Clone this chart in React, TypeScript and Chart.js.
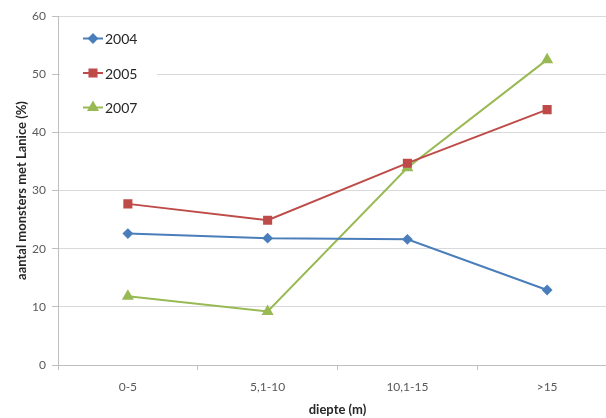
import React, { useEffect, useRef } from "react";
import { Chart, registerables } from "chart.js";
import { drawPoint } from "chart.js/helpers";

Chart.register(...registerables);

const categories = ["0-5", "5,1-10", "10,1-15", ">15"];
const series2004 = [22.6, 21.8, 21.6, 12.9];
const series2005 = [27.7, 24.9, 34.7, 43.9];
const series2007 = [11.8, 9.2, 33.9, 52.5];
const yTicks = [0, 10, 20, 30, 40, 50, 60];

const FONT = "Lato, 'Open Sans', sans-serif";

const legendPlugin = {
  id: "boxLegend",
  afterDatasetsDraw(chart: any) {
    const ctx = chart.ctx;
    const { left, top } = chart.chartArea;
    ctx.save();
    ctx.fillStyle = "#ffffff";
    ctx.fillRect(left + 2, top + 6, 97, 106);
    chart.data.datasets.forEach((ds: any, i: number) => {
      const y = top + 22.5 + i * 34.5;
      ctx.strokeStyle = ds.borderColor;
      ctx.lineWidth = 2;
      ctx.beginPath();
      ctx.moveTo(left + 25, y);
      ctx.lineTo(left + 45, y);
      ctx.stroke();
      ctx.fillStyle = ds.backgroundColor;
      ctx.strokeStyle = ds.borderColor;
      drawPoint(
        ctx,
        { pointStyle: ds.pointStyle, radius: ds.pointRadius, rotation: 0, borderWidth: 1 } as any,
        left + 35,
        y
      );
      ctx.fillStyle = "#262626";
      ctx.font = `14px ${FONT}`;
      ctx.textAlign = "left";
      ctx.textBaseline = "middle";
      ctx.fillText(ds.label, left + 47, y + 1);
    });
    ctx.restore();
  },
};

export default function App() {
  const ref = useRef<HTMLCanvasElement | null>(null);
  useEffect(() => {
    if (!ref.current) return;
    const chart = new Chart(ref.current, {
      type: "line",
      data: {
        labels: categories,
        datasets: [
          {
            label: "2004",
            data: series2004,
            borderColor: "#4A7EBB",
            backgroundColor: "#4A7EBB",
            borderWidth: 2,
            pointStyle: "rectRot",
            pointRadius: 4,
            tension: 0,
          },
          {
            label: "2005",
            data: series2005,
            borderColor: "#BE4B48",
            backgroundColor: "#BE4B48",
            borderWidth: 2,
            pointStyle: "rect",
            pointRadius: 5,
            tension: 0,
          },
          {
            label: "2007",
            data: series2007,
            borderColor: "#98B954",
            backgroundColor: "#98B954",
            borderWidth: 2,
            pointStyle: "triangle",
            pointRadius: 5,
            tension: 0,
          },
        ],
      },
      plugins: [legendPlugin],
      options: {
        animation: false,
        responsive: true,
        maintainAspectRatio: false,
        layout: { padding: { top: 16, right: 6, left: 0, bottom: 0 } },
        plugins: { legend: { display: false }, tooltip: { enabled: false } },
        scales: {
          x: {
            offset: true,
            afterFit: (s: any) => {
              s.height = 53;
            },
            grid: {
              offset: true,
              drawOnChartArea: false,
              drawTicks: true,
              tickLength: 5,
              color: "#bfbfbf",
            },
            border: { color: "#bfbfbf", width: 1 },
            ticks: {
              color: "#595959",
              font: { family: FONT, size: 12 },
              padding: 10,
              maxRotation: 0,
            },
            title: {
              display: true,
              text: "diepte (m)",
              color: "#262626",
              font: { family: FONT, size: 13, weight: "bold" },
              padding: { top: 0, bottom: 0 },
            },
          },
          y: {
            min: 0,
            max: 60,
            afterFit: (s: any) => {
              s.width = 58;
            },
            afterBuildTicks: (s: any) => {
              s.ticks = yTicks.map((v) => ({ value: v }));
            },
            grid: {
              color: "#d9d9d9",
              lineWidth: 1,
              tickLength: 6,
              tickColor: "#bfbfbf",
            },
            border: { color: "#bfbfbf", width: 1 },
            ticks: {
              color: "#595959",
              font: { family: FONT, size: 12 },
              padding: 6,
            },
            title: {
              display: true,
              text: "aantal monsters met Lanice (%)",
              color: "#262626",
              font: { family: FONT, size: 13, weight: "bold" },
              padding: { top: 14, bottom: 0 },
            },
          },
        },
      },
    } as any);
    return () => chart.destroy();
  }, []);

  return (
    <div
      style={{
        position: "fixed",
        left: 0,
        top: 0,
        width: 606,
        height: 418,
        overflow: "hidden",
        background: "#fff",
      }}
    >
      <div style={{ position: "relative", width: 624, height: 418 }}>
        <canvas ref={ref} />
      </div>
    </div>
  );
}
